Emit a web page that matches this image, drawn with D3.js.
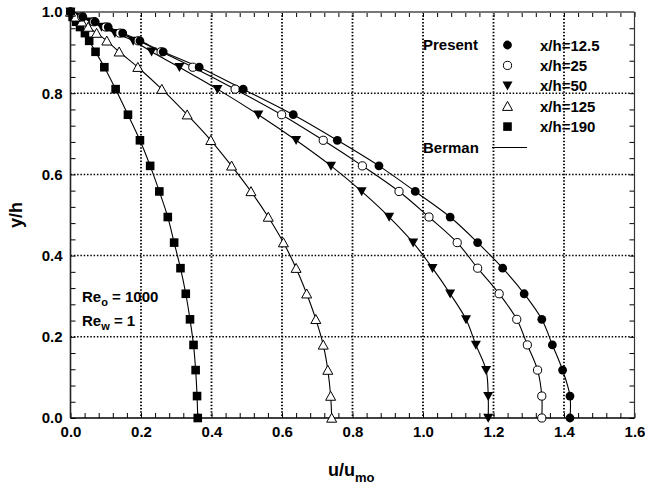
<!DOCTYPE html>
<html>
<head>
<meta charset="utf-8">
<script src="https://cdn.jsdelivr.net/npm/d3@7"></script>
<style>
  html, body { margin: 0; padding: 0; background: #fff; }
  svg { display: block; font-family: "Liberation Sans", Arial, Helvetica, sans-serif; font-weight: bold; }
</style>
</head>
<body>
<svg id="chart" width="645" height="485"></svg>
<script>
// Wall-normal positions shared by every profile
const yPos = [0, 0.054, 0.118, 0.180, 0.243, 0.306, 0.369, 0.432, 0.495, 0.558, 0.621,
              0.684, 0.747, 0.810, 0.864, 0.902, 0.929, 0.948, 0.963, 0.976, 0.988, 1.0];

// Streamwise velocity u/u_mo at each station
const u12_5 = [1.417, 1.417, 1.396, 1.367, 1.337, 1.287, 1.226, 1.155, 1.077, 0.978, 0.875,
               0.757, 0.632, 0.490, 0.365, 0.263, 0.197, 0.148, 0.107, 0.070, 0.035, 0];
const u25   = [1.337, 1.337, 1.325, 1.296, 1.266, 1.216, 1.155, 1.097, 1.017, 0.932, 0.828,
               0.717, 0.599, 0.467, 0.347, 0.257, 0.192, 0.140, 0.100, 0.066, 0.032, 0];
const u50   = [1.185, 1.185, 1.179, 1.150, 1.122, 1.077, 1.027, 0.972, 0.904, 0.826, 0.739,
               0.640, 0.533, 0.417, 0.309, 0.230, 0.178, 0.126, 0.088, 0.058, 0.028, 0];
const u125  = [0.741, 0.738, 0.730, 0.717, 0.696, 0.670, 0.640, 0.604, 0.561, 0.512, 0.457,
               0.398, 0.331, 0.259, 0.191, 0.138, 0.103, 0.074, 0.050, 0.032, 0.015, 0];
const u190  = [0.361, 0.359, 0.355, 0.349, 0.339, 0.327, 0.312, 0.294, 0.276, 0.252, 0.226,
               0.197, 0.163, 0.128, 0.096, 0.071, 0.053, 0.041, 0.027, 0.016, 0.006, 0];

const seriesLabels = ["x/h=12.5", "x/h=25", "x/h=50", "x/h=125", "x/h=190"];
const seriesValues = [u12_5, u25, u50, u125, u190];
const seriesSymbols = ["circleFilled", "circleOpen", "triDown", "triUpOpen", "square"];

const xTicks = [0.0, 0.2, 0.4, 0.6, 0.8, 1.0, 1.2, 1.4, 1.6];
const yTicks = [0.0, 0.2, 0.4, 0.6, 0.8, 1.0];

const svg = d3.select("#chart");
const L = 70.5, R = 634.5, T = 12, B = 418;

const x = d3.scaleLinear().domain([0, 1.6]).range([L, R]);
const y = d3.scaleLinear().domain([0, 1.0]).range([B, T]);

const minorX = d3.range(0, 1.6001, 0.04);
const minorY = d3.range(0, 1.0001, 0.04);

// Dotted grid at major ticks
const grid = svg.append("g");
grid.selectAll("line.gx").data(xTicks.slice(1, -1)).join("line")
  .attr("x1", d => x(d)).attr("x2", d => x(d)).attr("y1", T).attr("y2", B)
  .attr("stroke", "#000").attr("stroke-width", 1.8).attr("stroke-dasharray", "1.5,1.8");
grid.selectAll("line.gy").data(yTicks.slice(1, -1)).join("line")
  .attr("y1", d => y(d)).attr("y2", d => y(d)).attr("x1", L).attr("x2", R)
  .attr("stroke", "#000").attr("stroke-width", 1.5).attr("stroke-dasharray", "1.5,1.8");

// Axes with inward ticks on all four sides
function tickAxis(axisGen, transform) {
  const g = svg.append("g").attr("transform", transform).call(axisGen);
  g.select(".domain").remove();
  g.selectAll(".tick line").attr("stroke", "#000").attr("stroke-width", 1);
  return g;
}
tickAxis(d3.axisBottom(x).tickValues(minorX).tickSize(-5).tickFormat(""), `translate(0,${B})`);
tickAxis(d3.axisTop(x).tickValues(minorX).tickSize(-5).tickFormat(""), `translate(0,${T})`);
tickAxis(d3.axisLeft(y).tickValues(minorY).tickSize(-5).tickFormat(""), `translate(${L},0)`);
tickAxis(d3.axisRight(y).tickValues(minorY).tickSize(-5).tickFormat(""), `translate(${R},0)`);

// Tick labels
const xl = tickAxis(d3.axisBottom(x).tickValues(xTicks).tickSize(0).tickPadding(8).tickFormat(d3.format(".1f")),
  `translate(0,${B})`);
xl.selectAll("text").attr("font-size", 15).attr("font-weight", "bold").attr("fill", "#000")
  .attr("font-family", "Liberation Sans, Arial, sans-serif");
const yl = tickAxis(d3.axisLeft(y).tickValues(yTicks).tickSize(0).tickPadding(8).tickFormat(d3.format(".1f")),
  `translate(${L},0)`);
yl.selectAll("text").attr("font-size", 15).attr("font-weight", "bold").attr("fill", "#000")
  .attr("font-family", "Liberation Sans, Arial, sans-serif");

// Frame
svg.append("line").attr("x1", L).attr("x2", R).attr("y1", T).attr("y2", T)
  .attr("stroke", "#777").attr("stroke-width", 2);
svg.append("line").attr("x1", R).attr("x2", R).attr("y1", T).attr("y2", B)
  .attr("stroke", "#333").attr("stroke-width", 1.2);
svg.append("line").attr("x1", L).attr("x2", R).attr("y1", B).attr("y2", B)
  .attr("stroke", "#000").attr("stroke-width", 1.6);
svg.append("line").attr("x1", L).attr("x2", L).attr("y1", T).attr("y2", B)
  .attr("stroke", "#222").attr("stroke-width", 1.6);

// Berman solution curves
const line = d3.line().x(d => x(d[0])).y(d => y(d[1])).curve(d3.curveCatmullRom.alpha(0.5));
seriesValues.forEach(vals => {
  const pts = vals.map((u, i) => [u, yPos[i]]);
  svg.append("path").datum(pts).attr("d", line)
    .attr("fill", "none").attr("stroke", "#000").attr("stroke-width", 1.1);
});

// Marker symbols
function drawMarker(g, kind, cx, cy) {
  if (kind === "circleFilled") {
    g.append("circle").attr("cx", cx).attr("cy", cy).attr("r", 4.4).attr("fill", "#000");
  } else if (kind === "circleOpen") {
    g.append("circle").attr("cx", cx).attr("cy", cy).attr("r", 4.1)
      .attr("fill", "#fff").attr("stroke", "#000").attr("stroke-width", 1);
  } else if (kind === "triDown") {
    g.append("path").attr("d", `M${cx - 5},${cy - 4.2}L${cx + 5},${cy - 4.2}L${cx},${cy + 4.8}Z`)
      .attr("fill", "#000");
  } else if (kind === "triUpOpen") {
    g.append("path").attr("d", `M${cx - 5},${cy + 4.2}L${cx + 5},${cy + 4.2}L${cx},${cy - 4.8}Z`)
      .attr("fill", "#fff").attr("stroke", "#000").attr("stroke-width", 1);
  } else if (kind === "square") {
    g.append("rect").attr("x", cx - 4.3).attr("y", cy - 4.3).attr("width", 8.6).attr("height", 8.6)
      .attr("fill", "#000");
  }
}

// Draw the present results, far-downstream first so upstream markers sit on top
for (let s = seriesValues.length - 1; s >= 0; s--) {
  const g = svg.append("g");
  seriesValues[s].forEach((u, i) => drawMarker(g, seriesSymbols[s], x(u), y(yPos[i])));
}

// Legend
const lg = svg.append("g").attr("font-size", 15).attr("fill", "#000");
lg.append("text").attr("x", 423).attr("y", 50).text("Present");
seriesLabels.forEach((lab, i) => {
  const cy = 45 + i * 20.4;
  drawMarker(lg, seriesSymbols[i], 507.5, cy);
  lg.append("text").attr("x", 540).attr("y", cy + 5.5).text(lab);
});
lg.append("text").attr("x", 423).attr("y", 153).text("Berman");
lg.append("line").attr("x1", 492).attr("x2", 527).attr("y1", 147.5).attr("y2", 147.5)
  .attr("stroke", "#000").attr("stroke-width", 1);

// Reynolds number annotations
const re = svg.append("g").attr("font-size", 15).attr("fill", "#000");
const t1 = re.append("text").attr("x", 82).attr("y", 302);
t1.append("tspan").text("Re");
t1.append("tspan").attr("font-size", 11).attr("dy", 4).text("o");
t1.append("tspan").attr("dy", -4).text(" = 1000");
const t2 = re.append("text").attr("x", 82).attr("y", 326);
t2.append("tspan").text("Re");
t2.append("tspan").attr("font-size", 11).attr("dy", 4).text("w");
t2.append("tspan").attr("dy", -4).text(" = 1");

// Axis titles
const xt = svg.append("text").attr("x", 328).attr("y", 476).attr("font-size", 18).attr("fill", "#000");
xt.append("tspan").text("u/u");
xt.append("tspan").attr("font-size", 13).attr("dy", 6).text("mo");
svg.append("text").attr("transform", "translate(22,215) rotate(-90)").attr("text-anchor", "middle")
  .attr("font-size", 18).attr("fill", "#000").text("y/h");
</script>
</body>
</html>
